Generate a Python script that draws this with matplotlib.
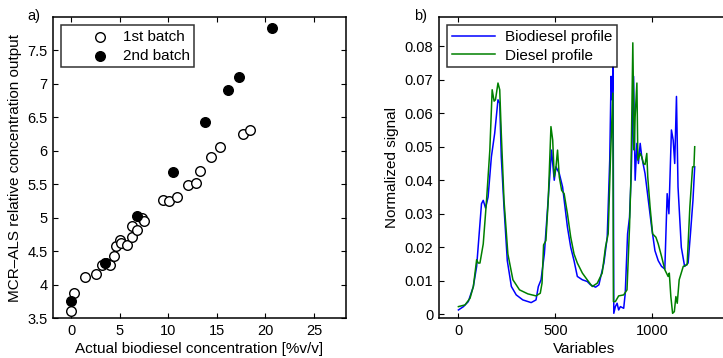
import numpy as np
import matplotlib
matplotlib.use("Agg")
import matplotlib.pyplot as plt

plt.rcParams['font.family'] = ['Liberation Sans', 'DejaVu Sans']
plt.rcParams['font.size'] = 10.5

# panel a) - calibration points
batch1_x = [0, 0.24, 1.38, 2.52, 3.10, 3.55, 3.97, 4.38, 4.59, 5.0, 5.10, 5.69, 6.21, 6.28,
            6.72, 7.24, 7.48, 9.48, 10.1, 10.86, 12.0, 12.86, 13.28, 14.38, 15.34, 17.69, 18.38]
batch1_y = [3.60, 3.87, 4.11, 4.16, 4.29, 4.32, 4.29, 4.42, 4.57, 4.67, 4.62, 4.59, 4.71, 4.87,
            4.82, 5.0, 4.95, 5.26, 5.25, 5.31, 5.49, 5.52, 5.70, 5.90, 6.05, 6.25, 6.31]
batch2_x = [0, 3.45, 6.79, 10.45, 13.8, 16.1, 17.24, 20.7]
batch2_y = [3.75, 4.32, 5.02, 5.69, 6.43, 6.91, 7.10, 7.83]

# panel b) - profiles
bio_x = [0, 26, 51, 77, 94, 107, 119, 128, 140, 153, 170, 187, 204, 213, 221, 235, 252, 273,
         298, 332, 375, 400, 412, 426, 443, 460, 480, 494, 503, 520, 537, 562, 579, 596, 613,
         639, 664, 681, 707, 724, 750, 767, 780, 787, 792, 797, 801, 809, 818, 826, 835, 852,
         860, 872, 882, 891, 903, 911, 920, 928, 937, 945, 962, 979, 996, 1013, 1030, 1047,
         1064, 1076, 1085, 1098, 1107, 1115, 1124, 1132, 1149, 1166, 1184, 1196, 1209, 1218]
bio_y = [0.0013, 0.0023, 0.0038, 0.0083, 0.0143, 0.024, 0.033, 0.034, 0.0317, 0.035, 0.047,
         0.054, 0.064, 0.063, 0.047, 0.032, 0.016, 0.0083, 0.0058, 0.0043, 0.0035, 0.0043,
         0.0083, 0.0103, 0.018, 0.032, 0.049, 0.040, 0.044, 0.042, 0.038, 0.026, 0.020, 0.016,
         0.0113, 0.0103, 0.0098, 0.0088, 0.0081, 0.0088, 0.0153, 0.023, 0.046, 0.071, 0.064,
         0.074, 0.0003, 0.0023, 0.0033, 0.0013, 0.0023, 0.0018, 0.0063, 0.024, 0.029, 0.042,
         0.071, 0.040, 0.051, 0.045, 0.051, 0.047, 0.042, 0.034, 0.026, 0.019, 0.016, 0.0143,
         0.0135, 0.036, 0.030, 0.055, 0.052, 0.045, 0.065, 0.038, 0.020, 0.0143, 0.0153,
         0.024, 0.034, 0.044]
dsl_x = [0, 34, 60, 77, 94, 102, 111, 128, 145, 162, 174, 184, 191, 204, 213, 221, 235, 255,
         281, 315, 358, 400, 422, 431, 439, 451, 463, 477, 486, 494, 503, 511, 520, 532, 545,
         562, 579, 596, 613, 639, 664, 690, 716, 741, 758, 772, 784, 796, 799, 809, 826, 852,
         869, 882, 889, 899, 906, 911, 920, 925, 937, 945, 954, 962, 971, 976, 988, 1001,
         1018, 1030, 1047, 1064, 1081, 1087, 1095, 1104, 1113, 1121, 1128, 1138, 1159, 1179,
         1193, 1207, 1214, 1218]
dsl_y = [0.0023, 0.0028, 0.0048, 0.0083, 0.0163, 0.0153, 0.0153, 0.021, 0.034, 0.049, 0.067,
         0.0636, 0.064, 0.069, 0.067, 0.054, 0.034, 0.018, 0.0103, 0.0073, 0.0061, 0.0055,
         0.0063, 0.0093, 0.0207, 0.022, 0.034, 0.056, 0.052, 0.041, 0.044, 0.049, 0.041,
         0.037, 0.036, 0.030, 0.023, 0.018, 0.0153, 0.0123, 0.0103, 0.0083, 0.0093, 0.0123,
         0.020, 0.024, 0.047, 0.066, 0.0038, 0.0038, 0.0055, 0.0058, 0.0073, 0.026, 0.040,
         0.081, 0.049, 0.059, 0.069, 0.046, 0.048, 0.047, 0.045, 0.0447, 0.048, 0.041, 0.032,
         0.024, 0.023, 0.021, 0.0173, 0.0133, 0.0113, 0.0123, 0.0053, 0.0003, 0.0008, 0.0053,
         0.0033, 0.0103, 0.0143, 0.0148, 0.032, 0.044, 0.044, 0.050]

fig = plt.figure(figsize=(7.23, 3.58), dpi=100)
ax1 = fig.add_axes([0.0733, 0.1117, 0.4053, 0.8408])
ax2 = fig.add_axes([0.6072, 0.1117, 0.4025, 0.8408])

for ax in (ax1, ax2):
    ax.tick_params(direction='in', top=True, right=True, length=3.5, width=0.8,
                   labelsize=10.5, pad=4)
    for s in ax.spines.values():
        s.set_linewidth(1.1)

ax1.scatter(batch1_x, batch1_y, s=48, facecolors='white', edgecolors='black', linewidths=1.0,
            label='1st batch', zorder=2)
ax1.scatter(batch2_x, batch2_y, s=48, facecolors='black', edgecolors='black', linewidths=1.0,
            label='2nd batch', zorder=3)
ax1.set_xlim(-1.9, 28.3)
ax1.set_ylim(3.5, 8.0)
ax1.set_xticks([0, 5, 10, 15, 20, 25])
ax1.set_yticks([3.5, 4, 4.5, 5, 5.5, 6, 6.5, 7, 7.5])
ax1.set_yticklabels(['3.5', '4', '4.5', '5', '5.5', '6', '6.5', '7', '7.5'])
ax1.set_xlabel('Actual biodiesel concentration [%v/v]', labelpad=3, fontsize=11)
ax1.set_ylabel('MCR\u2013ALS relative concentration output', labelpad=4, fontsize=11)
leg1 = ax1.legend(loc='upper left', frameon=True, fancybox=False, edgecolor='black',
                  borderaxespad=0.55, handlelength=4.4, handletextpad=-0.7,
                  labelspacing=0.3, borderpad=0.3, fontsize=11)
leg1.get_frame().set_linewidth(1.1)
fig.text(0.038, 0.955, 'a)', fontsize=10.5, va='center')

ax2.plot(bio_x, bio_y, color='#0000ff', lw=1.1, label='Biodiesel profile')
ax2.plot(dsl_x, dsl_y, color='#008000', lw=1.1, label='Diesel profile')
ax2.set_xlim(-100, 1400)
ax2.set_ylim(-0.0011, 0.0887)
ax2.set_xticks([0, 500, 1000])
ax2.set_yticks([0, 0.01, 0.02, 0.03, 0.04, 0.05, 0.06, 0.07, 0.08])
ax2.set_yticklabels(['0', '0.01', '0.02', '0.03', '0.04', '0.05', '0.06', '0.07', '0.08'])
ax2.set_xlabel('Variables', labelpad=3, fontsize=11)
ax2.set_ylabel('Normalized signal', labelpad=4, fontsize=11)
leg2 = ax2.legend(loc='upper left', frameon=True, fancybox=False, edgecolor='black',
                  borderaxespad=0.55, handlelength=2.8, handletextpad=0.7, labelspacing=0.3,
                  borderpad=0.3, fontsize=11)
leg2.get_frame().set_linewidth(1.1)
fig.text(0.572, 0.955, 'b)', fontsize=10.5, va='center')

fig.savefig('out.png', dpi=100)
